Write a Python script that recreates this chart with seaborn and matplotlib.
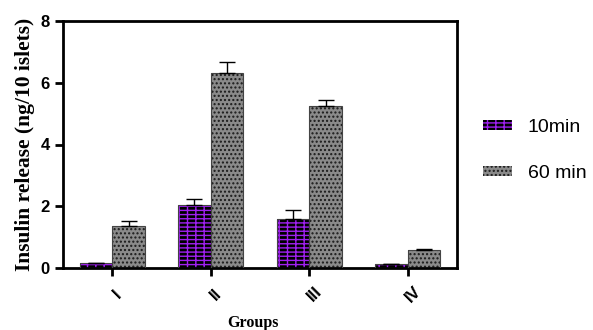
import numpy as np
import pandas as pd
import matplotlib
matplotlib.use("Agg")
import matplotlib.pyplot as plt
import seaborn as sns
from matplotlib.patches import Patch

# data
groups = ["I", "II", "III", "IV"]
times = ["10min", "60 min"]
mean_10 = [0.15, 2.04, 1.59, 0.12]
sem_10 = [0.02, 0.19, 0.29, 0.02]
mean_60 = [1.37, 6.32, 5.25, 0.58]
sem_60 = [0.16, 0.35, 0.19, 0.02]

df = pd.DataFrame({
    "Group": groups * 2,
    "Time": [times[0]] * 4 + [times[1]] * 4,
    "Insulin": mean_10 + mean_60,
    "SEM": sem_10 + sem_60,
})

sns.set_style("ticks", {"axes.edgecolor": "black", "xtick.color": "black",
                        "ytick.color": "black", "text.color": "black",
                        "axes.labelcolor": "black"})
plt.rcParams["font.family"] = ["Liberation Sans", "DejaVu Sans"]
plt.rcParams["hatch.linewidth"] = 1.0

fig = plt.figure(figsize=(5.93, 3.30), dpi=100)
ax = fig.add_axes([63 / 593, 1 - 268 / 330, 394 / 593, 247 / 330])

styles = {
    "10min": dict(face="black", hatch="----||", hcol="#a020f0"),
    "60 min": dict(face="#8a8a8a", hatch="....", hcol="#1a1a1a"),
}

sns.barplot(data=df, x="Group", y="Insulin", hue="Time", order=groups,
            hue_order=times, width=0.66, errorbar=None, ax=ax,
            legend=False, saturation=1)

for cont, t in zip(ax.containers, times):
    sub = df[df["Time"] == t]
    st = styles[t]
    xs = []
    for bar in cont:
        bar.set_facecolor(st["face"])
        bar.set_hatch(st["hatch"])
        bar.set_edgecolor(st["hcol"])
        bar.set_linewidth(0)
        xs.append(bar.get_x() + bar.get_width() / 2)
        # outline
        ax.add_patch(plt.Rectangle((bar.get_x(), 0), bar.get_width(),
                                   bar.get_height(), fill=False,
                                   edgecolor="#444444", lw=0.8, zorder=3))
    ax.errorbar(xs, sub["Insulin"].values,
                yerr=[np.zeros(len(sub)), sub["SEM"].values],
                fmt="none", ecolor="black", elinewidth=1, capsize=6,
                capthick=1, zorder=4)

ax.set_xlim(-0.5, 3.5)
ax.set_ylim(0, 8)
ax.set_yticks([0, 2, 4, 6, 8])
for s in ax.spines.values():
    s.set_visible(True)
    s.set_linewidth(2)
    s.set_color("black")
ax.tick_params(axis="both", width=2, length=6, direction="out",
               color="black", labelcolor="black")
ax.tick_params(axis="y", labelsize=12)
ax.set_xticks(range(4))
ax.set_xticklabels(groups, rotation=45, ha="center", va="top",
                   rotation_mode="anchor", fontsize=12, fontweight="bold")
for lab in ax.get_yticklabels():
    lab.set_fontweight("bold")
ax.tick_params(axis="x", pad=9)

ax.set_ylabel("Insulin release (ng/10 islets)", family="Liberation Serif",
              fontweight="bold", fontsize=15.5, labelpad=4, color="black")
ax.set_xlabel("Groups", family="Liberation Serif", fontweight="bold",
              fontsize=11.5, color="black")
ax.xaxis.set_label_coords(0.482, -0.19)

handles = [Patch(facecolor=styles[t]["face"], hatch=styles[t]["hatch"],
                 edgecolor=styles[t]["hcol"], lw=0) for t in times]
fig.legend(handles, times, loc="upper left",
           bbox_to_anchor=(483 / 593, 1 - 119 / 330),
           frameon=False, fontsize=14, handlelength=1.5, handleheight=0.45,
           labelspacing=1.5, handletextpad=0.8, borderpad=0,
           borderaxespad=0, labelcolor="black")

fig.savefig("out.png", dpi=100)
